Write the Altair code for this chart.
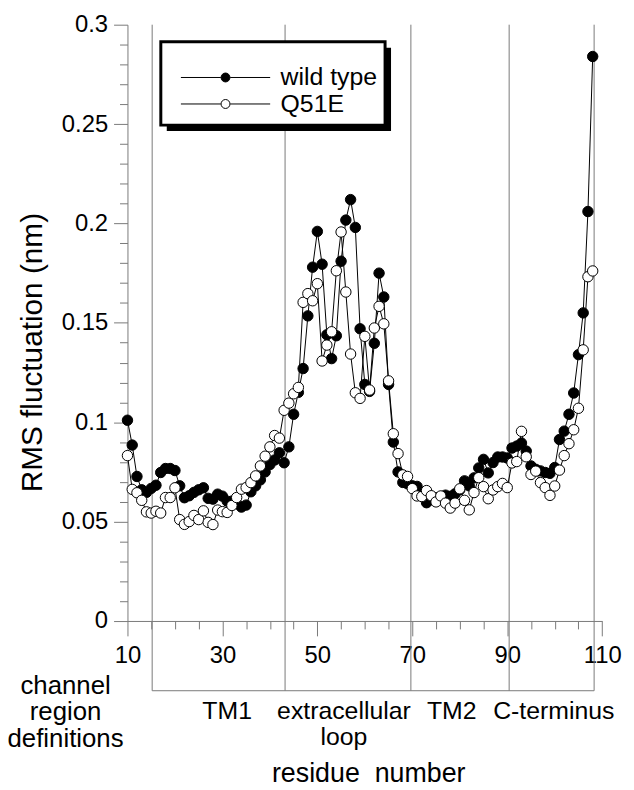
import altair as alt
import pandas as pd

FONT = "Liberation Sans"

residues = list(range(10, 109))
wild_type = [
    0.101, 0.0885, 0.0727, 0.066, 0.0647, 0.0667, 0.0683, 0.0747, 0.0767, 0.0767,
    0.0757, 0.068, 0.062, 0.063, 0.0647, 0.066, 0.067, 0.0617, 0.0613, 0.0638,
    0.0628, 0.0603, 0.0603, 0.059, 0.0573, 0.0583, 0.065, 0.068, 0.071, 0.075,
    0.0787, 0.081, 0.0846, 0.0796, 0.0876, 0.104, 0.115, 0.127, 0.1535, 0.178,
    0.196, 0.1795, 0.144, 0.132, 0.1435, 0.181, 0.2017, 0.212, 0.198, 0.147,
    0.119, 0.1155, 0.1397, 0.175, 0.163, 0.119, 0.090, 0.075, 0.0697, 0.069,
    0.068, 0.0677, 0.064, 0.0595, 0.061, 0.062, 0.062, 0.0633, 0.0627, 0.064,
    0.066, 0.0705, 0.068, 0.072, 0.077, 0.0813, 0.0745, 0.0797, 0.0825, 0.0825,
    0.082, 0.087, 0.088, 0.0895, 0.0855, 0.078, 0.0763, 0.0755, 0.0747, 0.0743,
    0.0772, 0.0913, 0.0955, 0.104, 0.1147, 0.134, 0.155, 0.206, 0.284,
]
q51e = [
    0.0832, 0.0662, 0.0645, 0.0607, 0.0549, 0.0543, 0.0552, 0.0543, 0.0621, 0.0621,
    0.067, 0.051, 0.0486, 0.050, 0.0531, 0.051, 0.0554, 0.0496, 0.0485, 0.0558,
    0.055, 0.0546, 0.0581, 0.0621, 0.0663, 0.0671, 0.0696, 0.073, 0.078, 0.0829,
    0.0876, 0.0933, 0.092, 0.106, 0.1096, 0.1143, 0.1175, 0.1603, 0.1647, 0.1611,
    0.1697, 0.1308, 0.1388, 0.1455, 0.1762, 0.1957, 0.1655, 0.1343, 0.1148, 0.112,
    0.1432, 0.1162, 0.1474, 0.1583, 0.1495, 0.1208, 0.0942, 0.0842, 0.0735, 0.0727,
    0.0666, 0.0629, 0.0626, 0.0656, 0.063, 0.0599, 0.0629, 0.0593, 0.0568, 0.0593,
    0.0665, 0.0607, 0.0559, 0.0646, 0.0721, 0.0676, 0.0615, 0.0659, 0.0676, 0.0692,
    0.0671, 0.0795, 0.0802, 0.0954, 0.0826, 0.0737, 0.0754, 0.0696, 0.0671, 0.0632,
    0.0679, 0.0759, 0.0832, 0.0892, 0.0962, 0.107, 0.1364, 0.1732, 0.1761,
]
series_names = ["wild type", "Q51E"]

region_bounds = [15.2, 43.2, 69.7, 90.4, 108.3]
region_names = ["TM1", "extracellular\nloop", "TM2", "C-terminus"]
region_label_x = [31.0, 55.6, 78.3, 99.8]
side_label = "channel\nregion\ndefinitions"

x_ticks = list(range(10, 111, 5))
y_ticks = [round(i * 0.01, 2) for i in range(31)]

# ---- tables
df = pd.concat([
    pd.DataFrame({"residue": residues, "rms": wild_type, "series": series_names[0]}),
    pd.DataFrame({"residue": residues, "rms": q51e, "series": series_names[1]}),
])
df_wt = df[df.series == series_names[0]]
df_q = df[df.series == series_names[1]]
df_bounds = pd.DataFrame({"bound": region_bounds})
df_bracket = pd.DataFrame({"x0": [region_bounds[0]], "x1": [region_bounds[-1]]})
df_regions = pd.DataFrame({"name": region_names, "pos": region_label_x})
df_side = pd.DataFrame({"name": [side_label]})
df_one = pd.DataFrame({"k": [0]})

W, H = 478.4, 600.9
GRAY = "#7a7a7a"

xscale = alt.Scale(domain=[10, 110], nice=False, zero=False)
yscale = alt.Scale(domain=[0, 0.3], nice=False, zero=False)

xaxis = alt.Axis(
    values=x_ticks, labelExpr="datum.value % 20 == 10 ? datum.label : ''",
    tickSize={"condition": {"test": "datum.value % 20 == 10", "value": 15}, "value": 8},
    tickColor=GRAY, domainColor=GRAY, tickWidth=1, domainWidth=1,
    labelFont=FONT, labelFontSize=24, labelColor="black", labelPadding=8,
    labelFlush=False, labelOverlap=False, grid=False,
    title="residue\u00a0 number", titleFont=FONT, titleFontSize=27, titleFontWeight="normal",
    titleColor="black", titleX=242.6, titleY=153.3, titleBaseline="middle", titleAlign="center",
)
yaxis = alt.Axis(
    values=y_ticks,
    labelExpr="round(datum.value*100) % 5 == 0 ? format(datum.value, '~g') : ''",
    tickSize={"condition": {"test": "round(datum.value*100) % 5 == 0", "value": 14}, "value": 8},
    tickColor=GRAY, domainColor=GRAY, tickWidth=1, domainWidth=1,
    labelFont=FONT, labelFontSize=24, labelColor="black", labelPadding=6,
    labelFlush=False, labelOverlap=False, grid=False,
    title="RMS fluctuation (nm)", titleFont=FONT, titleFontSize=30, titleFontWeight="normal",
    titleColor="black", titleAngle=270, titleX=-95.4, titleY=330.0,
    titleBaseline="middle", titleAlign="center",
)

SYMBOL = "M-1,0L-0.105,0M0.105,0L1,0M-0.1,0A0.1,0.1,0,1,1,0.1,0A0.1,0.1,0,1,1,-0.1,0Z"
legend = alt.Legend(
    title=None, orient="none", legendX=53.3, legendY=41.2,
    symbolType=SYMBOL, symbolSize=8100, symbolStrokeWidth=1, symbolStrokeColor="black",
    labelFont=FONT, labelFontSize=25, labelColor="black", labelOffset=10,
    rowPadding=1.7, padding=0, symbolOffset=0, clipHeight=24,
)
fill = alt.Fill("series:N", scale=alt.Scale(domain=series_names, range=["black", "white"]), legend=legend)

X = alt.X("residue:Q", scale=xscale, axis=xaxis)
Y = alt.Y("rms:Q", scale=yscale, axis=yaxis)

rules = alt.Chart(df_bounds).mark_rule(color=GRAY, strokeWidth=1).encode(
    x=alt.X("bound:Q", scale=xscale, axis=xaxis), y=alt.value(0), y2=alt.value(671.2))
bracket = alt.Chart(df_bracket).mark_rule(color=GRAY, strokeWidth=1).encode(
    x=alt.X("x0:Q", scale=xscale, axis=xaxis), x2="x1:Q", y=alt.value(671.2))
shadow = alt.Chart(df_one).mark_rect(color="black").encode(
    x=alt.value(39.6), x2=alt.value(265.6), y=alt.value(23.2), y2=alt.value(107.2))
box = alt.Chart(df_one).mark_rect(fill="white", stroke="black", strokeWidth=3).encode(
    x=alt.value(33.6), x2=alt.value(259.6), y=alt.value(17.2), y2=alt.value(101.2))
region_text = alt.Chart(df_regions).mark_text(
    font=FONT, fontSize=25, baseline="top", align="center", lineBreak="\n", lineHeight=26.5, color="black"
).encode(x=alt.X("pos:Q", scale=xscale, axis=xaxis), y=alt.value(679.5), text="name:N")
side_text = alt.Chart(df_side).mark_text(
    font=FONT, fontSize=26, baseline="top", align="center", lineBreak="\n", lineHeight=26.5, color="black"
).encode(x=alt.value(-62.4), y=alt.value(653.5), text="name:N")

line_wt = alt.Chart(df_wt).mark_line(color="black", strokeWidth=1).encode(x=X, y=Y)
pts_wt = alt.Chart(df_wt).mark_point(filled=True, stroke="black", strokeWidth=1, size=110, opacity=1, shape="circle").encode(x=X, y=Y, fill=fill)
line_q = alt.Chart(df_q).mark_line(color="black", strokeWidth=1).encode(x=X, y=Y)
pts_q = alt.Chart(df_q).mark_point(filled=True, stroke="black", strokeWidth=1, size=110, opacity=1, shape="circle").encode(x=X, y=Y, fill=fill)

chart = alt.layer(
    rules, bracket, shadow, box, region_text, side_text, line_wt, pts_wt, line_q, pts_q
).properties(
    width=W, height=H,
    autosize=alt.AutoSizeParams(type="none"),
    padding={"left": 120.4, "top": 13.8, "right": 24, "bottom": 166},
    background="white",
).configure_view(stroke=None)

chart.save("out.html", embed_options={"renderer": "svg", "actions": False})
